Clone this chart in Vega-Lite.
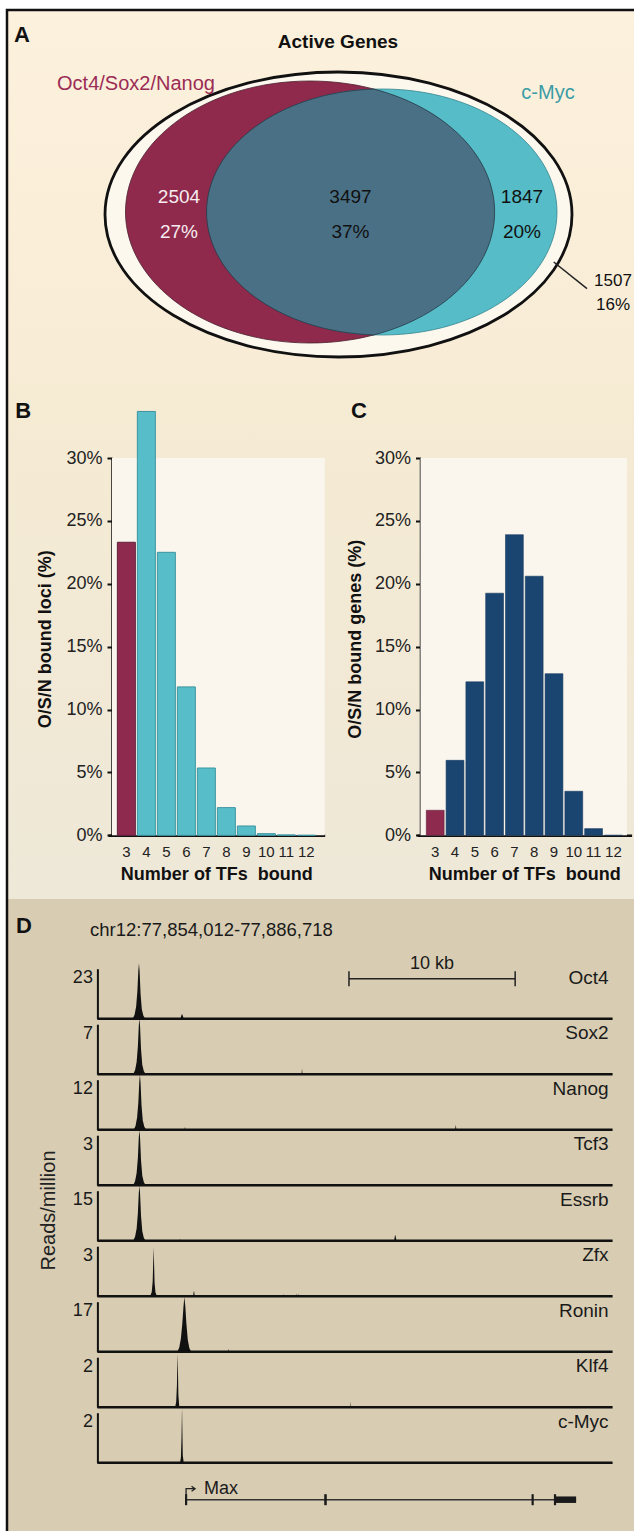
{
  "$schema": "https://vega.github.io/schema/vega-lite/v6.json",
  "background": "#ffffff",
  "padding": {"left": 5, "top": 8, "right": 0, "bottom": 0},
  "spacing": 0,
  "bounds": "flush",
  "config": {
    "font": "Liberation Sans",
    "view": {"stroke": null},
    "text": {"font": "Liberation Sans", "color": "#111111"},
    "axis": {"labelFont": "Liberation Sans", "titleFont": "Liberation Sans", "labelColor": "#1a1a1a", "titleColor": "#111111", "domainColor": "#111111", "tickColor": "#111111", "grid": false}
  },
  "datasets": {
    "panels": [{"panel": "A"}, {"panel": "B"}, {"panel": "C"}, {"panel": "D"}],
    "venn_sets": [
      {"set": "Active Genes", "genes": 9355},
      {"set": "Oct4/Sox2/Nanog", "genes": 6001},
      {"set": "c-Myc", "genes": 5344}
    ],
    "venn_regions": [
      {"region": "Oct4/Sox2/Nanog only", "genes": 2504, "share": "27%"},
      {"region": "Oct4/Sox2/Nanog and c-Myc", "genes": 3497, "share": "37%"},
      {"region": "c-Myc only", "genes": 1847, "share": "20%"},
      {"region": "Neither", "genes": 1507, "share": "16%"}
    ],
    "loci": [
      {"tfs": 3, "pct": 23.3}, {"tfs": 4, "pct": 33.7}, {"tfs": 5, "pct": 22.5}, {"tfs": 6, "pct": 11.8},
      {"tfs": 7, "pct": 5.35}, {"tfs": 8, "pct": 2.2}, {"tfs": 9, "pct": 0.74}, {"tfs": 10, "pct": 0.13},
      {"tfs": 11, "pct": 0.03}, {"tfs": 12, "pct": 0}
    ],
    "genes": [
      {"tfs": 3, "pct": 1.99}, {"tfs": 4, "pct": 5.96}, {"tfs": 5, "pct": 12.2}, {"tfs": 6, "pct": 19.25},
      {"tfs": 7, "pct": 23.9}, {"tfs": 8, "pct": 20.6}, {"tfs": 9, "pct": 12.85}, {"tfs": 10, "pct": 3.5},
      {"tfs": 11, "pct": 0.53}, {"tfs": 12, "pct": 0}
    ],
    "locus": [{"locus": "chr12:77,854,012-77,886,718"}],
    "track_info": [
      {"track": "Oct4", "max": 23}, {"track": "Sox2", "max": 7}, {"track": "Nanog", "max": 12},
      {"track": "Tcf3", "max": 3}, {"track": "Essrb", "max": 15}, {"track": "Zfx", "max": 3},
      {"track": "Ronin", "max": 17}, {"track": "Klf4", "max": 2}, {"track": "c-Myc", "max": 2}
    ],
    "tracks": [
      {"track": "Oct4", "kb": 0, "rpm": 0}, {"track": "Oct4", "kb": 2.24, "rpm": 0}, {"track": "Oct4", "kb": 2.36, "rpm": 1.8},
      {"track": "Oct4", "kb": 2.46, "rpm": 5.6}, {"track": "Oct4", "kb": 2.54, "rpm": 12.8}, {"track": "Oct4", "kb": 2.6, "rpm": 22.4},
      {"track": "Oct4", "kb": 2.64, "rpm": 25.5}, {"track": "Oct4", "kb": 2.68, "rpm": 21.7}, {"track": "Oct4", "kb": 2.74, "rpm": 11.5},
      {"track": "Oct4", "kb": 2.82, "rpm": 4.3}, {"track": "Oct4", "kb": 2.92, "rpm": 1.3}, {"track": "Oct4", "kb": 3.04, "rpm": 0},
      {"track": "Oct4", "kb": 3.8, "rpm": 0}, {"track": "Oct4", "kb": 3.83, "rpm": 0.5}, {"track": "Oct4", "kb": 3.86, "rpm": 0},
      {"track": "Oct4", "kb": 5.27, "rpm": 0}, {"track": "Oct4", "kb": 5.32, "rpm": 1.2}, {"track": "Oct4", "kb": 5.37, "rpm": 2.3},
      {"track": "Oct4", "kb": 5.42, "rpm": 1.4}, {"track": "Oct4", "kb": 5.48, "rpm": 0}, {"track": "Oct4", "kb": 32.706, "rpm": 0},

      {"track": "Sox2", "kb": 0, "rpm": 0}, {"track": "Sox2", "kb": 2.27, "rpm": 0}, {"track": "Sox2", "kb": 2.39, "rpm": 0.55},
      {"track": "Sox2", "kb": 2.49, "rpm": 1.7}, {"track": "Sox2", "kb": 2.57, "rpm": 3.9}, {"track": "Sox2", "kb": 2.63, "rpm": 6.9},
      {"track": "Sox2", "kb": 2.67, "rpm": 7.8}, {"track": "Sox2", "kb": 2.71, "rpm": 6.6}, {"track": "Sox2", "kb": 2.77, "rpm": 3.5},
      {"track": "Sox2", "kb": 2.85, "rpm": 1.3}, {"track": "Sox2", "kb": 2.95, "rpm": 0.4}, {"track": "Sox2", "kb": 3.07, "rpm": 0},
      {"track": "Sox2", "kb": 12.96, "rpm": 0}, {"track": "Sox2", "kb": 12.99, "rpm": 0.8}, {"track": "Sox2", "kb": 13.02, "rpm": 0},
      {"track": "Sox2", "kb": 32.706, "rpm": 0},

      {"track": "Nanog", "kb": 0, "rpm": 0}, {"track": "Nanog", "kb": 2.3, "rpm": 0}, {"track": "Nanog", "kb": 2.42, "rpm": 0.9},
      {"track": "Nanog", "kb": 2.52, "rpm": 2.9}, {"track": "Nanog", "kb": 2.6, "rpm": 6.6}, {"track": "Nanog", "kb": 2.66, "rpm": 11.6},
      {"track": "Nanog", "kb": 2.7, "rpm": 13.2}, {"track": "Nanog", "kb": 2.74, "rpm": 11.2}, {"track": "Nanog", "kb": 2.8, "rpm": 5.9},
      {"track": "Nanog", "kb": 2.88, "rpm": 2.2}, {"track": "Nanog", "kb": 2.98, "rpm": 0.7}, {"track": "Nanog", "kb": 3.1, "rpm": 0},
      {"track": "Nanog", "kb": 5.53, "rpm": 0}, {"track": "Nanog", "kb": 5.56, "rpm": 0.7}, {"track": "Nanog", "kb": 5.59, "rpm": 0},
      {"track": "Nanog", "kb": 22.71, "rpm": 0}, {"track": "Nanog", "kb": 22.75, "rpm": 1.2}, {"track": "Nanog", "kb": 22.79, "rpm": 0},
      {"track": "Nanog", "kb": 32.706, "rpm": 0},

      {"track": "Tcf3", "kb": 0, "rpm": 0}, {"track": "Tcf3", "kb": 2.27, "rpm": 0}, {"track": "Tcf3", "kb": 2.39, "rpm": 0.23},
      {"track": "Tcf3", "kb": 2.49, "rpm": 0.73}, {"track": "Tcf3", "kb": 2.57, "rpm": 1.65}, {"track": "Tcf3", "kb": 2.63, "rpm": 2.9},
      {"track": "Tcf3", "kb": 2.67, "rpm": 3.3}, {"track": "Tcf3", "kb": 2.71, "rpm": 2.8}, {"track": "Tcf3", "kb": 2.77, "rpm": 1.5},
      {"track": "Tcf3", "kb": 2.85, "rpm": 0.56}, {"track": "Tcf3", "kb": 2.95, "rpm": 0.17}, {"track": "Tcf3", "kb": 3.07, "rpm": 0},
      {"track": "Tcf3", "kb": 32.706, "rpm": 0},

      {"track": "Essrb", "kb": 0, "rpm": 0}, {"track": "Essrb", "kb": 2.27, "rpm": 0}, {"track": "Essrb", "kb": 2.39, "rpm": 1.2},
      {"track": "Essrb", "kb": 2.49, "rpm": 3.6}, {"track": "Essrb", "kb": 2.57, "rpm": 8.3}, {"track": "Essrb", "kb": 2.63, "rpm": 14.5},
      {"track": "Essrb", "kb": 2.67, "rpm": 16.5}, {"track": "Essrb", "kb": 2.71, "rpm": 14.0}, {"track": "Essrb", "kb": 2.77, "rpm": 7.4},
      {"track": "Essrb", "kb": 2.85, "rpm": 2.8}, {"track": "Essrb", "kb": 2.95, "rpm": 0.8}, {"track": "Essrb", "kb": 3.07, "rpm": 0},
      {"track": "Essrb", "kb": 5.22, "rpm": 0}, {"track": "Essrb", "kb": 5.25, "rpm": 0.6}, {"track": "Essrb", "kb": 5.28, "rpm": 0},
      {"track": "Essrb", "kb": 18.84, "rpm": 0}, {"track": "Essrb", "kb": 18.88, "rpm": 1.3}, {"track": "Essrb", "kb": 18.91, "rpm": 1.8},
      {"track": "Essrb", "kb": 18.95, "rpm": 0.9}, {"track": "Essrb", "kb": 18.99, "rpm": 0}, {"track": "Essrb", "kb": 32.706, "rpm": 0},

      {"track": "Zfx", "kb": 0, "rpm": 0}, {"track": "Zfx", "kb": 3.35, "rpm": 0}, {"track": "Zfx", "kb": 3.45, "rpm": 0.25},
      {"track": "Zfx", "kb": 3.51, "rpm": 0.9}, {"track": "Zfx", "kb": 3.55, "rpm": 2.3}, {"track": "Zfx", "kb": 3.57, "rpm": 2.94},
      {"track": "Zfx", "kb": 3.59, "rpm": 2.2}, {"track": "Zfx", "kb": 3.63, "rpm": 0.8}, {"track": "Zfx", "kb": 3.69, "rpm": 0.2},
      {"track": "Zfx", "kb": 3.79, "rpm": 0}, {"track": "Zfx", "kb": 6.08, "rpm": 0}, {"track": "Zfx", "kb": 6.11, "rpm": 0.25},
      {"track": "Zfx", "kb": 6.14, "rpm": 0.3}, {"track": "Zfx", "kb": 6.18, "rpm": 0}, {"track": "Zfx", "kb": 11.77, "rpm": 0},
      {"track": "Zfx", "kb": 11.79, "rpm": 0.15}, {"track": "Zfx", "kb": 11.81, "rpm": 0}, {"track": "Zfx", "kb": 12.64, "rpm": 0},
      {"track": "Zfx", "kb": 12.66, "rpm": 0.18}, {"track": "Zfx", "kb": 12.68, "rpm": 0}, {"track": "Zfx", "kb": 12.72, "rpm": 0},
      {"track": "Zfx", "kb": 12.74, "rpm": 0.18}, {"track": "Zfx", "kb": 12.76, "rpm": 0}, {"track": "Zfx", "kb": 32.706, "rpm": 0},

      {"track": "Ronin", "kb": 0, "rpm": 0}, {"track": "Ronin", "kb": 5.08, "rpm": 0}, {"track": "Ronin", "kb": 5.2, "rpm": 1.5},
      {"track": "Ronin", "kb": 5.3, "rpm": 4.5}, {"track": "Ronin", "kb": 5.39, "rpm": 9.5}, {"track": "Ronin", "kb": 5.46, "rpm": 15.0},
      {"track": "Ronin", "kb": 5.52, "rpm": 18.6}, {"track": "Ronin", "kb": 5.58, "rpm": 15.5}, {"track": "Ronin", "kb": 5.65, "rpm": 9.5},
      {"track": "Ronin", "kb": 5.74, "rpm": 4.0}, {"track": "Ronin", "kb": 5.84, "rpm": 1.2}, {"track": "Ronin", "kb": 5.96, "rpm": 0},
      {"track": "Ronin", "kb": 8.29, "rpm": 0}, {"track": "Ronin", "kb": 8.32, "rpm": 1.0}, {"track": "Ronin", "kb": 8.35, "rpm": 0},
      {"track": "Ronin", "kb": 32.706, "rpm": 0},

      {"track": "Klf4", "kb": 0, "rpm": 0}, {"track": "Klf4", "kb": 2.45, "rpm": 0}, {"track": "Klf4", "kb": 2.5, "rpm": 0.04},
      {"track": "Klf4", "kb": 2.6, "rpm": 0.04}, {"track": "Klf4", "kb": 2.65, "rpm": 0}, {"track": "Klf4", "kb": 4.93, "rpm": 0},
      {"track": "Klf4", "kb": 5.0, "rpm": 0.2}, {"track": "Klf4", "kb": 5.05, "rpm": 0.9}, {"track": "Klf4", "kb": 5.08, "rpm": 1.9},
      {"track": "Klf4", "kb": 5.09, "rpm": 2.13}, {"track": "Klf4", "kb": 5.11, "rpm": 1.6}, {"track": "Klf4", "kb": 5.14, "rpm": 0.5},
      {"track": "Klf4", "kb": 5.2, "rpm": 0}, {"track": "Klf4", "kb": 16.06, "rpm": 0}, {"track": "Klf4", "kb": 16.08, "rpm": 0.24},
      {"track": "Klf4", "kb": 16.1, "rpm": 0}, {"track": "Klf4", "kb": 32.706, "rpm": 0},

      {"track": "c-Myc", "kb": 0, "rpm": 0}, {"track": "c-Myc", "kb": 5.24, "rpm": 0}, {"track": "c-Myc", "kb": 5.3, "rpm": 0.2},
      {"track": "c-Myc", "kb": 5.34, "rpm": 1.0}, {"track": "c-Myc", "kb": 5.365, "rpm": 2.0}, {"track": "c-Myc", "kb": 5.375, "rpm": 2.16},
      {"track": "c-Myc", "kb": 5.39, "rpm": 1.5}, {"track": "c-Myc", "kb": 5.42, "rpm": 0.3}, {"track": "c-Myc", "kb": 5.48, "rpm": 0},
      {"track": "c-Myc", "kb": 32.706, "rpm": 0}
    ],
    "scale_bar": [{"label": "10 kb", "start": 15.97, "end": 26.52}],
    "gene_model": [
      {"gene": "Max", "part": "transcript", "start": 5.63, "end": 30.39},
      {"gene": "Max", "part": "exon", "start": 5.56, "end": 5.7},
      {"gene": "Max", "part": "exon", "start": 14.4, "end": 14.56},
      {"gene": "Max", "part": "exon", "start": 27.56, "end": 27.7},
      {"gene": "Max", "part": "exon", "start": 28.98, "end": 29.12},
      {"gene": "Max", "part": "UTR", "start": 29.05, "end": 30.39},
      {"gene": "Max", "part": "TSS", "start": 5.63, "end": 5.63}
    ]
  },
  "vconcat": [
    {
      "width": 627,
      "height": 374,
      "view": {"fill": {"expr": "{gradient: 'linear', x1: 0, y1: 0, x2: 0, y2: 1, stops: [{offset: 0, color: '#FCF1DC'}, {offset: 1, color: '#F8ECD6'}]}"}, "stroke": "#111111", "strokeWidth": 2.5, "strokeDash": [627, 1001, 374]},
      "layer": [
        {
          "data": {"name": "venn_sets"},
          "mark": {"type": "point", "filled": true, "size": 4, "opacity": 1},
          "encoding": {
            "x": {"field": "set", "type": "nominal", "scale": {"type": "point", "domain": ["Oct4/Sox2/Nanog", "Active Genes", "c-Myc"], "range": [303, 375.5], "padding": 0}, "axis": null},
            "shape": {"field": "set", "type": "nominal", "scale": {"domain": ["Active Genes", "Oct4/Sox2/Nanog", "c-Myc"], "range": ["M-241.25,17.5A233.5,142.5 0 1 1 225.75,17.5A233.5,142.5 0 1 1 -241.25,17.5Z", "M-184.5,15A184.5,131 0 1 1 184.5,15A184.5,131 0 1 1 -184.5,15Z", "M-174.5,15A174.5,123 0 1 1 174.5,15A174.5,123 0 1 1 -174.5,15Z"]}, "legend": null},
            "fill": {"field": "set", "type": "nominal", "scale": {"domain": ["Active Genes", "Oct4/Sox2/Nanog", "c-Myc"], "range": ["#FDF8EE", "#8F2A4C", "#56BDC8"]}, "legend": null},
            "stroke": {"field": "set", "type": "nominal", "scale": {"domain": ["Active Genes", "Oct4/Sox2/Nanog", "c-Myc"], "range": ["#111111", "#4A1D2E", "#33848E"]}, "legend": null},
            "strokeWidth": {"condition": {"test": "datum.set === 'Active Genes'", "value": 2.8}, "value": 0.8}
          }
        },
        {
          "data": {"name": "venn_regions"},
          "transform": [{"filter": "datum.region !== 'Neither'"}],
          "encoding": {
            "x": {"field": "region", "type": "nominal", "scale": {"type": "point", "domain": ["Oct4/Sox2/Nanog only", "Oct4/Sox2/Nanog and c-Myc", "c-Myc only"], "range": [172, 515], "padding": 0}, "axis": null}
          },
          "layer": [
            {
              "transform": [{"filter": "datum.region === 'Oct4/Sox2/Nanog and c-Myc'"}],
              "mark": {"type": "point", "shape": "M23.5,-107.9A184.5,131 0 0 1 23.5,137.9A174.5,123 0 0 1 23.5,-107.9Z", "size": 4, "filled": true, "fill": "#4A7086", "stroke": "#253845", "strokeWidth": 0.8, "opacity": 1}
            },
            {
              "mark": {"type": "text", "fontSize": 19, "baseline": "middle"},
              "encoding": {
                "text": {"field": "genes", "type": "quantitative", "format": "d"},
                "color": {"condition": {"test": "datum.region === 'Oct4/Sox2/Nanog only'", "value": "#F7EDF0"}, "value": "#111111"}
              }
            },
            {
              "mark": {"type": "text", "fontSize": 19, "baseline": "middle", "dy": 35},
              "encoding": {
                "text": {"field": "share", "type": "nominal"},
                "color": {"condition": {"test": "datum.region === 'Oct4/Sox2/Nanog only'", "value": "#F7EDF0"}, "value": "#111111"}
              }
            }
          ]
        },
        {
          "data": {"name": "venn_sets"},
          "transform": [{"filter": "datum.set !== 'Active Genes'"}],
          "mark": {"type": "text", "fontSize": 20, "baseline": "middle"},
          "encoding": {
            "x": {"field": "set", "type": "nominal", "scale": {"type": "point", "domain": ["Oct4/Sox2/Nanog", "c-Myc"], "range": [129, 541], "padding": 0}, "axis": null},
            "y": {"field": "set", "type": "nominal", "scale": {"type": "point", "domain": ["Oct4/Sox2/Nanog", "c-Myc"], "range": [74, 83], "padding": 0}, "axis": null},
            "text": {"field": "set", "type": "nominal"},
            "color": {"field": "set", "type": "nominal", "scale": {"domain": ["Oct4/Sox2/Nanog", "c-Myc"], "range": ["#9B2C55", "#3A9CA6"]}, "legend": null}
          }
        },
        {
          "data": {"name": "venn_sets"},
          "transform": [{"filter": "datum.set === 'Active Genes'"}],
          "mark": {"type": "text", "fontSize": 19, "fontWeight": "bold", "baseline": "middle"},
          "encoding": {
            "x": {"field": "set", "type": "nominal", "scale": {"type": "point", "range": [331, 331], "padding": 0}, "axis": null},
            "y": {"field": "set", "type": "nominal", "scale": {"type": "point", "range": [32, 32], "padding": 0}, "axis": null},
            "text": {"field": "set", "type": "nominal"}
          }
        },
        {
          "data": {"name": "venn_regions"},
          "transform": [{"filter": "datum.region === 'Neither'"}],
          "encoding": {
            "x": {"field": "region", "type": "nominal", "scale": {"type": "point", "range": [606, 606], "padding": 0}, "axis": null},
            "y": {"field": "region", "type": "nominal", "scale": {"type": "point", "range": [271, 271], "padding": 0}, "axis": null}
          },
          "layer": [
            {"mark": {"type": "point", "shape": "M-59.3,-19L-26,7.7", "size": 4, "filled": false, "color": "#222222", "strokeWidth": 1.5, "opacity": 1}},
            {"mark": {"type": "text", "fontSize": 17, "baseline": "middle"}, "encoding": {"text": {"field": "genes", "type": "quantitative", "format": "d"}}},
            {"mark": {"type": "text", "fontSize": 17, "baseline": "middle", "dy": 24}, "encoding": {"text": {"field": "share", "type": "nominal"}}}
          ]
        },
        {
          "data": {"name": "panels"},
          "transform": [{"filter": "datum.panel === 'A'"}],
          "mark": {"type": "text", "fontSize": 22, "fontWeight": "bold", "align": "left", "baseline": "middle"},
          "encoding": {
            "x": {"field": "panel", "type": "nominal", "scale": {"type": "point", "range": [7, 7], "padding": 0}, "axis": null},
            "y": {"field": "panel", "type": "nominal", "scale": {"type": "point", "range": [25, 25], "padding": 0}, "axis": null},
            "text": {"field": "panel", "type": "nominal"}
          }
        }
      ],
      "resolve": {"scale": {"x": "independent", "y": "independent", "shape": "independent", "fill": "independent", "stroke": "independent", "color": "independent"}}
    },
    {
      "width": 627,
      "height": 515,
      "view": {"fill": {"expr": "{gradient: 'linear', x1: 0, y1: 0, x2: 0, y2: 1, stops: [{offset: 0, color: '#F6EBD3'}, {offset: 1, color: '#EEE8D8'}]}"}, "stroke": "#111111", "strokeWidth": 2.5, "strokeDash": [0, 1769, 515]},
      "layer": [
        {
          "data": {"name": "panels"},
          "transform": [{"filter": "datum.panel === 'B'"}],
          "mark": {"type": "rect", "fill": "#FAF6EE"},
          "encoding": {
            "x": {"datum": 0, "type": "quantitative", "scale": {"domain": [0, 1], "range": [105, 317.7], "nice": false, "zero": false}, "axis": null},
            "x2": {"datum": 1},
            "y": {"datum": 0, "type": "quantitative", "scale": {"domain": [0, 30], "range": [451.3, 74], "nice": false}, "axis": null},
            "y2": {"datum": 30}
          }
        },
        {
          "data": {"name": "loci"},
          "mark": {"type": "bar", "strokeWidth": 1},
          "encoding": {
            "x": {"field": "tfs", "type": "ordinal", "scale": {"type": "band", "range": [101, 317.7], "paddingInner": 0.1, "paddingOuter": 0.4675},
              "axis": {"orient": "bottom", "offset": -63.7, "title": "Number of TFs\u00a0 bound", "labelAngle": 0, "ticks": false, "tickSize": 0, "labelPadding": 9, "labelFontSize": 15, "labelColor": "#222222", "domainColor": "#111111", "domainWidth": 2.5, "titleFontSize": 18, "titleFontWeight": "bold", "titleY": 38.7, "titleBaseline": "middle", "titleColor": "#111111"}},
            "y": {"field": "pct", "type": "quantitative", "scale": {"domain": [0, 30], "range": [451.3, 74], "nice": false, "zero": true},
              "axis": {"orient": "left", "offset": -105, "values": [0, 5, 10, 15, 20, 25, 30], "labelExpr": "datum.value + '%'", "tickSize": 5, "tickWidth": 2, "tickColor": "#111111", "domainWidth": 2.5, "domainColor": "#111111", "labelPadding": 5, "labelFontSize": 18, "labelColor": "#222222", "title": "O/S/N bound loci (%)", "titleFontSize": 18, "titleFontWeight": "bold", "titleX": -67, "titleY": 254.7, "titleAngle": -90, "titleBaseline": "middle", "titleAlign": "center", "titleLimit": 400}},
            "fill": {"condition": {"test": "datum.tfs === 3", "value": "#8F2A4F"}, "value": "#57BEC9"},
            "stroke": {"condition": {"test": "datum.tfs === 3", "value": "#62203A"}, "value": "#3C95A0"}
          }
        },
        {
          "data": {"name": "panels"},
          "transform": [{"filter": "datum.panel === 'C'"}],
          "mark": {"type": "rect", "fill": "#FAF6EE"},
          "encoding": {
            "x": {"datum": 0, "type": "quantitative", "scale": {"domain": [0, 1], "range": [413.5, 620], "nice": false, "zero": false}, "axis": null},
            "x2": {"datum": 1},
            "y": {"datum": 0, "type": "quantitative", "scale": {"domain": [0, 30], "range": [451.3, 74], "nice": false}, "axis": null},
            "y2": {"datum": 30}
          }
        },
        {
          "data": {"name": "genes"},
          "mark": {"type": "bar", "strokeWidth": 0.6},
          "encoding": {
            "x": {"field": "tfs", "type": "ordinal", "scale": {"type": "band", "range": [410, 624.6], "paddingInner": 0.1, "paddingOuter": 0.47},
              "axis": {"orient": "bottom", "offset": -63.7, "title": "Number of TFs\u00a0 bound", "labelAngle": 0, "ticks": false, "tickSize": 0, "labelPadding": 9, "labelFontSize": 15, "labelColor": "#222222", "domainColor": "#111111", "domainWidth": 2.5, "titleFontSize": 18, "titleFontWeight": "bold", "titleY": 38.7, "titleBaseline": "middle", "titleColor": "#111111"}},
            "y": {"field": "pct", "type": "quantitative", "scale": {"domain": [0, 30], "range": [451.3, 74], "nice": false, "zero": true},
              "axis": {"orient": "left", "offset": -413.5, "values": [0, 5, 10, 15, 20, 25, 30], "labelExpr": "datum.value + '%'", "tickSize": 5, "tickWidth": 2, "tickColor": "#111111", "domainWidth": 2.5, "domainColor": "#111111", "labelPadding": 5, "labelFontSize": 18, "labelColor": "#222222", "title": "O/S/N bound genes (%)", "titleFontSize": 18, "titleFontWeight": "bold", "titleX": -65.2, "titleY": 254.7, "titleAngle": -90, "titleBaseline": "middle", "titleAlign": "center", "titleLimit": 400}},
            "fill": {"condition": {"test": "datum.tfs === 3", "value": "#8F2A4F"}, "value": "#1B4571"},
            "stroke": {"condition": {"test": "datum.tfs === 3", "value": "#62203A"}, "value": "#16395E"}
          }
        },
        {
          "data": {"name": "panels"},
          "transform": [{"filter": "datum.panel === 'B' || datum.panel === 'C'"}],
          "mark": {"type": "text", "fontSize": 22, "fontWeight": "bold", "align": "left", "baseline": "middle"},
          "encoding": {
            "x": {"field": "panel", "type": "nominal", "scale": {"type": "point", "domain": ["B", "C"], "range": [8.3, 344], "padding": 0}, "axis": null},
            "y": {"field": "panel", "type": "nominal", "scale": {"type": "point", "domain": ["B", "C"], "range": [26.5, 26.5], "padding": 0}, "axis": null},
            "text": {"field": "panel", "type": "nominal"}
          }
        }
      ],
      "resolve": {"scale": {"x": "independent", "y": "independent"}, "axis": {"x": "independent", "y": "independent"}}
    },
    {
      "width": 627,
      "height": 632,
      "view": {"fill": "#D8CDB3", "stroke": "#111111", "strokeWidth": 2.5, "strokeDash": [0, 1886, 632]},
      "layer": [
        {
          "data": {"name": "panels"},
          "transform": [{"filter": "datum.panel === 'D'"}],
          "mark": {"type": "text", "fontSize": 22, "fontWeight": "bold", "align": "left", "baseline": "middle"},
          "encoding": {
            "x": {"field": "panel", "type": "nominal", "scale": {"type": "point", "range": [9, 9], "padding": 0}, "axis": null},
            "y": {"field": "panel", "type": "nominal", "scale": {"type": "point", "range": [27, 27], "padding": 0}, "axis": null},
            "text": {"field": "panel", "type": "nominal"}
          }
        },
        {
          "data": {"name": "locus"},
          "mark": {"type": "text", "fontSize": 18.5, "align": "left", "baseline": "middle", "color": "#1a1a1a"},
          "encoding": {
            "x": {"field": "locus", "type": "nominal", "scale": {"type": "point", "range": [83, 83], "padding": 0}, "axis": null},
            "y": {"field": "locus", "type": "nominal", "scale": {"type": "point", "range": [31, 31], "padding": 0}, "axis": null},
            "text": {"field": "locus", "type": "nominal"}
          }
        },

        {"data": {"name": "tracks"}, "transform": [{"filter": "datum.track === 'Oct4'"}], "mark": {"type": "area", "color": "#111111", "interpolate": "linear"},
         "encoding": {"x": {"field": "kb", "type": "quantitative", "scale": {"domain": [0, 32.706], "range": [90.4, 605.6], "nice": false, "zero": false}, "axis": null},
                      "y": {"field": "rpm", "type": "quantitative", "stack": null, "scale": {"domain": [0, 23], "range": [119.7, 69.7], "nice": false, "zero": true},
                            "axis": {"orient": "left", "offset": -90.4, "values": [23], "ticks": false, "tickSize": 0, "grid": false, "domainColor": "#111111", "domainWidth": 2, "labelBaseline": "top", "labelPadding": 5, "labelFontSize": 18, "labelColor": "#1a1a1a", "labelFlush": false, "title": null}}}},
        {"data": {"name": "track_info"}, "transform": [{"filter": "datum.track === 'Oct4'"}], "mark": {"type": "rule", "color": "#111111", "strokeWidth": 2.5},
         "encoding": {"x": {"datum": 0, "type": "quantitative", "scale": {"domain": [0, 32.706], "range": [90.4, 605.6], "nice": false, "zero": false}, "axis": null}, "x2": {"datum": 32.706},
                      "y": {"datum": 0, "type": "quantitative", "scale": {"domain": [0, 23], "range": [119.7, 69.7], "nice": false, "zero": true}, "axis": null}}},
        {"data": {"name": "track_info"}, "transform": [{"filter": "datum.track === 'Oct4'"}], "mark": {"type": "text", "align": "right", "baseline": "top", "dx": -4, "fontSize": 19, "color": "#1a1a1a"},
         "encoding": {"x": {"datum": 32.706, "type": "quantitative", "scale": {"domain": [0, 32.706], "range": [90.4, 605.6], "nice": false, "zero": false}, "axis": null},
                      "y": {"field": "max", "type": "quantitative", "scale": {"domain": [0, 23], "range": [119.7, 69.7], "nice": false, "zero": true}, "axis": null},
                      "text": {"field": "track", "type": "nominal"}}},

        {"data": {"name": "tracks"}, "transform": [{"filter": "datum.track === 'Sox2'"}], "mark": {"type": "area", "color": "#111111", "interpolate": "linear"},
         "encoding": {"x": {"field": "kb", "type": "quantitative", "scale": {"domain": [0, 32.706], "range": [90.4, 605.6], "nice": false, "zero": false}, "axis": null},
                      "y": {"field": "rpm", "type": "quantitative", "stack": null, "scale": {"domain": [0, 7], "range": [175.2, 125.2], "nice": false, "zero": true},
                            "axis": {"orient": "left", "offset": -90.4, "values": [7], "ticks": false, "tickSize": 0, "grid": false, "domainColor": "#111111", "domainWidth": 2, "labelBaseline": "top", "labelPadding": 5, "labelFontSize": 18, "labelColor": "#1a1a1a", "labelFlush": false, "title": null}}}},
        {"data": {"name": "track_info"}, "transform": [{"filter": "datum.track === 'Sox2'"}], "mark": {"type": "rule", "color": "#111111", "strokeWidth": 2.5},
         "encoding": {"x": {"datum": 0, "type": "quantitative", "scale": {"domain": [0, 32.706], "range": [90.4, 605.6], "nice": false, "zero": false}, "axis": null}, "x2": {"datum": 32.706},
                      "y": {"datum": 0, "type": "quantitative", "scale": {"domain": [0, 7], "range": [175.2, 125.2], "nice": false, "zero": true}, "axis": null}}},
        {"data": {"name": "track_info"}, "transform": [{"filter": "datum.track === 'Sox2'"}], "mark": {"type": "text", "align": "right", "baseline": "top", "dx": -4, "fontSize": 19, "color": "#1a1a1a"},
         "encoding": {"x": {"datum": 32.706, "type": "quantitative", "scale": {"domain": [0, 32.706], "range": [90.4, 605.6], "nice": false, "zero": false}, "axis": null},
                      "y": {"field": "max", "type": "quantitative", "scale": {"domain": [0, 7], "range": [175.2, 125.2], "nice": false, "zero": true}, "axis": null},
                      "text": {"field": "track", "type": "nominal"}}},

        {"data": {"name": "tracks"}, "transform": [{"filter": "datum.track === 'Nanog'"}], "mark": {"type": "area", "color": "#111111", "interpolate": "linear"},
         "encoding": {"x": {"field": "kb", "type": "quantitative", "scale": {"domain": [0, 32.706], "range": [90.4, 605.6], "nice": false, "zero": false}, "axis": null},
                      "y": {"field": "rpm", "type": "quantitative", "stack": null, "scale": {"domain": [0, 12], "range": [230.7, 180.7], "nice": false, "zero": true},
                            "axis": {"orient": "left", "offset": -90.4, "values": [12], "ticks": false, "tickSize": 0, "grid": false, "domainColor": "#111111", "domainWidth": 2, "labelBaseline": "top", "labelPadding": 5, "labelFontSize": 18, "labelColor": "#1a1a1a", "labelFlush": false, "title": null}}}},
        {"data": {"name": "track_info"}, "transform": [{"filter": "datum.track === 'Nanog'"}], "mark": {"type": "rule", "color": "#111111", "strokeWidth": 2.5},
         "encoding": {"x": {"datum": 0, "type": "quantitative", "scale": {"domain": [0, 32.706], "range": [90.4, 605.6], "nice": false, "zero": false}, "axis": null}, "x2": {"datum": 32.706},
                      "y": {"datum": 0, "type": "quantitative", "scale": {"domain": [0, 12], "range": [230.7, 180.7], "nice": false, "zero": true}, "axis": null}}},
        {"data": {"name": "track_info"}, "transform": [{"filter": "datum.track === 'Nanog'"}], "mark": {"type": "text", "align": "right", "baseline": "top", "dx": -4, "fontSize": 19, "color": "#1a1a1a"},
         "encoding": {"x": {"datum": 32.706, "type": "quantitative", "scale": {"domain": [0, 32.706], "range": [90.4, 605.6], "nice": false, "zero": false}, "axis": null},
                      "y": {"field": "max", "type": "quantitative", "scale": {"domain": [0, 12], "range": [230.7, 180.7], "nice": false, "zero": true}, "axis": null},
                      "text": {"field": "track", "type": "nominal"}}},

        {"data": {"name": "tracks"}, "transform": [{"filter": "datum.track === 'Tcf3'"}], "mark": {"type": "area", "color": "#111111", "interpolate": "linear"},
         "encoding": {"x": {"field": "kb", "type": "quantitative", "scale": {"domain": [0, 32.706], "range": [90.4, 605.6], "nice": false, "zero": false}, "axis": null},
                      "y": {"field": "rpm", "type": "quantitative", "stack": null, "scale": {"domain": [0, 3], "range": [286.2, 236.2], "nice": false, "zero": true},
                            "axis": {"orient": "left", "offset": -90.4, "values": [3], "ticks": false, "tickSize": 0, "grid": false, "domainColor": "#111111", "domainWidth": 2, "labelBaseline": "top", "labelPadding": 5, "labelFontSize": 18, "labelColor": "#1a1a1a", "labelFlush": false, "title": null}}}},
        {"data": {"name": "track_info"}, "transform": [{"filter": "datum.track === 'Tcf3'"}], "mark": {"type": "rule", "color": "#111111", "strokeWidth": 2.5},
         "encoding": {"x": {"datum": 0, "type": "quantitative", "scale": {"domain": [0, 32.706], "range": [90.4, 605.6], "nice": false, "zero": false}, "axis": null}, "x2": {"datum": 32.706},
                      "y": {"datum": 0, "type": "quantitative", "scale": {"domain": [0, 3], "range": [286.2, 236.2], "nice": false, "zero": true}, "axis": null}}},
        {"data": {"name": "track_info"}, "transform": [{"filter": "datum.track === 'Tcf3'"}], "mark": {"type": "text", "align": "right", "baseline": "top", "dx": -4, "fontSize": 19, "color": "#1a1a1a"},
         "encoding": {"x": {"datum": 32.706, "type": "quantitative", "scale": {"domain": [0, 32.706], "range": [90.4, 605.6], "nice": false, "zero": false}, "axis": null},
                      "y": {"field": "max", "type": "quantitative", "scale": {"domain": [0, 3], "range": [286.2, 236.2], "nice": false, "zero": true}, "axis": null},
                      "text": {"field": "track", "type": "nominal"}}},

        {"data": {"name": "tracks"}, "transform": [{"filter": "datum.track === 'Essrb'"}], "mark": {"type": "area", "color": "#111111", "interpolate": "linear"},
         "encoding": {"x": {"field": "kb", "type": "quantitative", "scale": {"domain": [0, 32.706], "range": [90.4, 605.6], "nice": false, "zero": false}, "axis": null},
                      "y": {"field": "rpm", "type": "quantitative", "stack": null, "scale": {"domain": [0, 15], "range": [341.7, 291.7], "nice": false, "zero": true},
                            "axis": {"orient": "left", "offset": -90.4, "values": [15], "ticks": false, "tickSize": 0, "grid": false, "domainColor": "#111111", "domainWidth": 2, "labelBaseline": "top", "labelPadding": 5, "labelFontSize": 18, "labelColor": "#1a1a1a", "labelFlush": false, "title": null}}}},
        {"data": {"name": "track_info"}, "transform": [{"filter": "datum.track === 'Essrb'"}], "mark": {"type": "rule", "color": "#111111", "strokeWidth": 2.5},
         "encoding": {"x": {"datum": 0, "type": "quantitative", "scale": {"domain": [0, 32.706], "range": [90.4, 605.6], "nice": false, "zero": false}, "axis": null}, "x2": {"datum": 32.706},
                      "y": {"datum": 0, "type": "quantitative", "scale": {"domain": [0, 15], "range": [341.7, 291.7], "nice": false, "zero": true}, "axis": null}}},
        {"data": {"name": "track_info"}, "transform": [{"filter": "datum.track === 'Essrb'"}], "mark": {"type": "text", "align": "right", "baseline": "top", "dx": -4, "fontSize": 19, "color": "#1a1a1a"},
         "encoding": {"x": {"datum": 32.706, "type": "quantitative", "scale": {"domain": [0, 32.706], "range": [90.4, 605.6], "nice": false, "zero": false}, "axis": null},
                      "y": {"field": "max", "type": "quantitative", "scale": {"domain": [0, 15], "range": [341.7, 291.7], "nice": false, "zero": true}, "axis": null},
                      "text": {"field": "track", "type": "nominal"}}},

        {"data": {"name": "tracks"}, "transform": [{"filter": "datum.track === 'Zfx'"}], "mark": {"type": "area", "color": "#111111", "interpolate": "linear"},
         "encoding": {"x": {"field": "kb", "type": "quantitative", "scale": {"domain": [0, 32.706], "range": [90.4, 605.6], "nice": false, "zero": false}, "axis": null},
                      "y": {"field": "rpm", "type": "quantitative", "stack": null, "scale": {"domain": [0, 3], "range": [397.2, 347.2], "nice": false, "zero": true},
                            "axis": {"orient": "left", "offset": -90.4, "values": [3], "ticks": false, "tickSize": 0, "grid": false, "domainColor": "#111111", "domainWidth": 2, "labelBaseline": "top", "labelPadding": 5, "labelFontSize": 18, "labelColor": "#1a1a1a", "labelFlush": false,
                                     "title": "Reads/million", "titleX": -49, "titleY": 311, "titleAngle": -90, "titleBaseline": "middle", "titleAlign": "center", "titleFontSize": 20, "titleFontWeight": "normal", "titleColor": "#222222", "titleLimit": 400}}}},
        {"data": {"name": "track_info"}, "transform": [{"filter": "datum.track === 'Zfx'"}], "mark": {"type": "rule", "color": "#111111", "strokeWidth": 2.5},
         "encoding": {"x": {"datum": 0, "type": "quantitative", "scale": {"domain": [0, 32.706], "range": [90.4, 605.6], "nice": false, "zero": false}, "axis": null}, "x2": {"datum": 32.706},
                      "y": {"datum": 0, "type": "quantitative", "scale": {"domain": [0, 3], "range": [397.2, 347.2], "nice": false, "zero": true}, "axis": null}}},
        {"data": {"name": "track_info"}, "transform": [{"filter": "datum.track === 'Zfx'"}], "mark": {"type": "text", "align": "right", "baseline": "top", "dx": -4, "fontSize": 19, "color": "#1a1a1a"},
         "encoding": {"x": {"datum": 32.706, "type": "quantitative", "scale": {"domain": [0, 32.706], "range": [90.4, 605.6], "nice": false, "zero": false}, "axis": null},
                      "y": {"field": "max", "type": "quantitative", "scale": {"domain": [0, 3], "range": [397.2, 347.2], "nice": false, "zero": true}, "axis": null},
                      "text": {"field": "track", "type": "nominal"}}},

        {"data": {"name": "tracks"}, "transform": [{"filter": "datum.track === 'Ronin'"}], "mark": {"type": "area", "color": "#111111", "interpolate": "linear"},
         "encoding": {"x": {"field": "kb", "type": "quantitative", "scale": {"domain": [0, 32.706], "range": [90.4, 605.6], "nice": false, "zero": false}, "axis": null},
                      "y": {"field": "rpm", "type": "quantitative", "stack": null, "scale": {"domain": [0, 17], "range": [452.7, 402.7], "nice": false, "zero": true},
                            "axis": {"orient": "left", "offset": -90.4, "values": [17], "ticks": false, "tickSize": 0, "grid": false, "domainColor": "#111111", "domainWidth": 2, "labelBaseline": "top", "labelPadding": 5, "labelFontSize": 18, "labelColor": "#1a1a1a", "labelFlush": false, "title": null}}}},
        {"data": {"name": "track_info"}, "transform": [{"filter": "datum.track === 'Ronin'"}], "mark": {"type": "rule", "color": "#111111", "strokeWidth": 2.5},
         "encoding": {"x": {"datum": 0, "type": "quantitative", "scale": {"domain": [0, 32.706], "range": [90.4, 605.6], "nice": false, "zero": false}, "axis": null}, "x2": {"datum": 32.706},
                      "y": {"datum": 0, "type": "quantitative", "scale": {"domain": [0, 17], "range": [452.7, 402.7], "nice": false, "zero": true}, "axis": null}}},
        {"data": {"name": "track_info"}, "transform": [{"filter": "datum.track === 'Ronin'"}], "mark": {"type": "text", "align": "right", "baseline": "top", "dx": -4, "fontSize": 19, "color": "#1a1a1a"},
         "encoding": {"x": {"datum": 32.706, "type": "quantitative", "scale": {"domain": [0, 32.706], "range": [90.4, 605.6], "nice": false, "zero": false}, "axis": null},
                      "y": {"field": "max", "type": "quantitative", "scale": {"domain": [0, 17], "range": [452.7, 402.7], "nice": false, "zero": true}, "axis": null},
                      "text": {"field": "track", "type": "nominal"}}},

        {"data": {"name": "tracks"}, "transform": [{"filter": "datum.track === 'Klf4'"}], "mark": {"type": "area", "color": "#111111", "interpolate": "linear"},
         "encoding": {"x": {"field": "kb", "type": "quantitative", "scale": {"domain": [0, 32.706], "range": [90.4, 605.6], "nice": false, "zero": false}, "axis": null},
                      "y": {"field": "rpm", "type": "quantitative", "stack": null, "scale": {"domain": [0, 2], "range": [508.2, 458.2], "nice": false, "zero": true},
                            "axis": {"orient": "left", "offset": -90.4, "values": [2], "ticks": false, "tickSize": 0, "grid": false, "domainColor": "#111111", "domainWidth": 2, "labelBaseline": "top", "labelPadding": 5, "labelFontSize": 18, "labelColor": "#1a1a1a", "labelFlush": false, "title": null}}}},
        {"data": {"name": "track_info"}, "transform": [{"filter": "datum.track === 'Klf4'"}], "mark": {"type": "rule", "color": "#111111", "strokeWidth": 2.5},
         "encoding": {"x": {"datum": 0, "type": "quantitative", "scale": {"domain": [0, 32.706], "range": [90.4, 605.6], "nice": false, "zero": false}, "axis": null}, "x2": {"datum": 32.706},
                      "y": {"datum": 0, "type": "quantitative", "scale": {"domain": [0, 2], "range": [508.2, 458.2], "nice": false, "zero": true}, "axis": null}}},
        {"data": {"name": "track_info"}, "transform": [{"filter": "datum.track === 'Klf4'"}], "mark": {"type": "text", "align": "right", "baseline": "top", "dx": -4, "fontSize": 19, "color": "#1a1a1a"},
         "encoding": {"x": {"datum": 32.706, "type": "quantitative", "scale": {"domain": [0, 32.706], "range": [90.4, 605.6], "nice": false, "zero": false}, "axis": null},
                      "y": {"field": "max", "type": "quantitative", "scale": {"domain": [0, 2], "range": [508.2, 458.2], "nice": false, "zero": true}, "axis": null},
                      "text": {"field": "track", "type": "nominal"}}},

        {"data": {"name": "tracks"}, "transform": [{"filter": "datum.track === 'c-Myc'"}], "mark": {"type": "area", "color": "#111111", "interpolate": "linear"},
         "encoding": {"x": {"field": "kb", "type": "quantitative", "scale": {"domain": [0, 32.706], "range": [90.4, 605.6], "nice": false, "zero": false}, "axis": null},
                      "y": {"field": "rpm", "type": "quantitative", "stack": null, "scale": {"domain": [0, 2], "range": [563.7, 513.7], "nice": false, "zero": true},
                            "axis": {"orient": "left", "offset": -90.4, "values": [2], "ticks": false, "tickSize": 0, "grid": false, "domainColor": "#111111", "domainWidth": 2, "labelBaseline": "top", "labelPadding": 5, "labelFontSize": 18, "labelColor": "#1a1a1a", "labelFlush": false, "title": null}}}},
        {"data": {"name": "track_info"}, "transform": [{"filter": "datum.track === 'c-Myc'"}], "mark": {"type": "rule", "color": "#111111", "strokeWidth": 2.5},
         "encoding": {"x": {"datum": 0, "type": "quantitative", "scale": {"domain": [0, 32.706], "range": [90.4, 605.6], "nice": false, "zero": false}, "axis": null}, "x2": {"datum": 32.706},
                      "y": {"datum": 0, "type": "quantitative", "scale": {"domain": [0, 2], "range": [563.7, 513.7], "nice": false, "zero": true}, "axis": null}}},
        {"data": {"name": "track_info"}, "transform": [{"filter": "datum.track === 'c-Myc'"}], "mark": {"type": "text", "align": "right", "baseline": "top", "dx": -4, "fontSize": 19, "color": "#1a1a1a"},
         "encoding": {"x": {"datum": 32.706, "type": "quantitative", "scale": {"domain": [0, 32.706], "range": [90.4, 605.6], "nice": false, "zero": false}, "axis": null},
                      "y": {"field": "max", "type": "quantitative", "scale": {"domain": [0, 2], "range": [563.7, 513.7], "nice": false, "zero": true}, "axis": null},
                      "text": {"field": "track", "type": "nominal"}}},

        {
          "data": {"name": "scale_bar"},
          "encoding": {"y": {"field": "label", "type": "nominal", "scale": {"type": "point", "range": [79.7, 79.7], "padding": 0}, "axis": null}},
          "layer": [
            {"mark": {"type": "rule", "color": "#222222", "strokeWidth": 1.5},
             "encoding": {"x": {"field": "start", "type": "quantitative", "scale": {"domain": [0, 32.706], "range": [90.4, 605.6], "nice": false, "zero": false}, "axis": null}, "x2": {"field": "end"}}},
            {"mark": {"type": "point", "shape": "M0,-7.5L0,7.5", "size": 4, "filled": false, "color": "#222222", "strokeWidth": 1.5, "opacity": 1},
             "encoding": {"x": {"field": "start", "type": "quantitative", "scale": {"domain": [0, 32.706], "range": [90.4, 605.6], "nice": false, "zero": false}, "axis": null}}},
            {"mark": {"type": "point", "shape": "M0,-7.5L0,7.5", "size": 4, "filled": false, "color": "#222222", "strokeWidth": 1.5, "opacity": 1},
             "encoding": {"x": {"field": "end", "type": "quantitative", "scale": {"domain": [0, 32.706], "range": [90.4, 605.6], "nice": false, "zero": false}, "axis": null}}},
            {"mark": {"type": "text", "align": "center", "baseline": "middle", "dx": 83, "dy": -15, "fontSize": 18, "color": "#1a1a1a"},
             "encoding": {"x": {"field": "start", "type": "quantitative", "scale": {"domain": [0, 32.706], "range": [90.4, 605.6], "nice": false, "zero": false}, "axis": null}, "text": {"field": "label", "type": "nominal"}}}
          ]
        },
        {
          "data": {"name": "gene_model"},
          "encoding": {"y": {"field": "gene", "type": "nominal", "scale": {"type": "point", "range": [600.7, 600.7], "padding": 0}, "axis": null}},
          "layer": [
            {"transform": [{"filter": "datum.part === 'transcript'"}], "mark": {"type": "rule", "color": "#333333", "strokeWidth": 1.5},
             "encoding": {"x": {"field": "start", "type": "quantitative", "scale": {"domain": [0, 32.706], "range": [90.4, 605.6], "nice": false, "zero": false}, "axis": null}, "x2": {"field": "end"}}},
            {"transform": [{"filter": "datum.part === 'exon'"}], "mark": {"type": "rule", "color": "#1a1a1a", "strokeWidth": 11},
             "encoding": {"x": {"field": "start", "type": "quantitative", "scale": {"domain": [0, 32.706], "range": [90.4, 605.6], "nice": false, "zero": false}, "axis": null}, "x2": {"field": "end"}}},
            {"transform": [{"filter": "datum.part === 'UTR'"}], "mark": {"type": "rule", "color": "#1a1a1a", "strokeWidth": 6.5},
             "encoding": {"x": {"field": "start", "type": "quantitative", "scale": {"domain": [0, 32.706], "range": [90.4, 605.6], "nice": false, "zero": false}, "axis": null}, "x2": {"field": "end"}}},
            {"transform": [{"filter": "datum.part === 'TSS'"}], "mark": {"type": "point", "shape": "M0,0L0,-11L8,-11M5.5,-13.5L9,-11L5.5,-8.5", "size": 4, "filled": false, "color": "#222222", "strokeWidth": 1.3, "opacity": 1},
             "encoding": {"x": {"field": "start", "type": "quantitative", "scale": {"domain": [0, 32.706], "range": [90.4, 605.6], "nice": false, "zero": false}, "axis": null}}},
            {"transform": [{"filter": "datum.part === 'TSS'"}], "mark": {"type": "text", "align": "left", "baseline": "middle", "dx": 18, "dy": -11, "fontSize": 18, "color": "#1a1a1a"},
             "encoding": {"x": {"field": "start", "type": "quantitative", "scale": {"domain": [0, 32.706], "range": [90.4, 605.6], "nice": false, "zero": false}, "axis": null}, "text": {"field": "gene", "type": "nominal"}}}
          ]
        }
      ],
      "resolve": {"scale": {"x": "independent", "y": "independent"}, "axis": {"y": "independent"}}
    }
  ]
}
